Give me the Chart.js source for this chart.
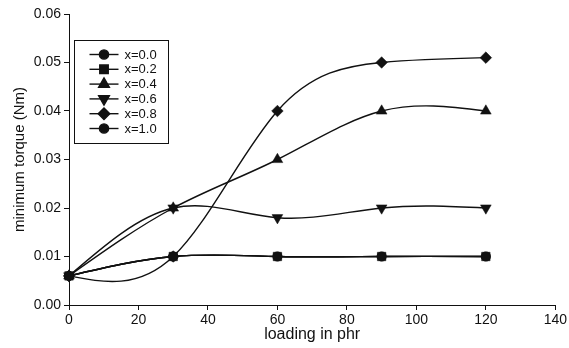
<!DOCTYPE html>
<html><head><meta charset="utf-8">
<script src="https://cdn.jsdelivr.net/npm/chart.js@4.4.1/dist/chart.umd.min.js"></script>
<style>html,body{margin:0;padding:0;background:#fff;} canvas{display:block;}</style>
</head><body>
<canvas id="c" width="569" height="348"></canvas>
<script>
// ---- data ----
const loading = [0, 30, 60, 90, 120];
const seriesLabels = ['x=0.0', 'x=0.2', 'x=0.4', 'x=0.6', 'x=0.8', 'x=1.0'];
const x00 = [0.006, 0.010, 0.010, 0.010, 0.010];
const x02 = [0.006, 0.010, 0.010, 0.010, 0.010];
const x04 = [0.006, 0.020, 0.030, 0.040, 0.040];
const x06 = [0.006, 0.020, 0.018, 0.020, 0.020];
const x08 = [0.006, 0.010, 0.040, 0.050, 0.051];
const x10 = [0.006, 0.010, 0.010, 0.010, 0.010];
const xTicks = [0, 20, 40, 60, 80, 100, 120, 140];
const yTicks = [0, 0.01, 0.02, 0.03, 0.04, 0.05, 0.06];
const xTitle = 'loading in phr';
const yTitle = 'minimum torque (Nm)';

// ---- styles ----
const seriesValues = [x00, x02, x04, x06, x08, x10];
const markers = [
  {style: 'circle', radius: 4.6, rotation: 0},
  {style: 'rect', radius: 6.0, rotation: 0},
  {style: 'triangle', radius: 6.2, rotation: 0},
  {style: 'triangle', radius: 6.2, rotation: 180},
  {style: 'rectRot', radius: 5.8, rotation: 0},
  {style: 'circle', radius: 4.6, rotation: 0}
];
const FONT = '"Liberation Sans", Arial, Helvetica, sans-serif';
const INK = '#111';

const datasets = seriesValues.map((vals, i) => ({
  label: seriesLabels[i],
  data: loading.map((x, j) => ({x: x, y: vals[j]})),
  borderColor: INK,
  borderWidth: 1.4,
  backgroundColor: INK,
  pointStyle: markers[i].style,
  pointRadius: markers[i].radius,
  pointRotation: markers[i].rotation,
  pointBackgroundColor: INK,
  pointBorderColor: INK,
  pointBorderWidth: 0.5,
  tension: 0.4,
  fill: false,
  clip: false
}));

// Smooth the lines as a natural cubic spline (control points from the library's own point positions)
const naturalSpline = {
  id: 'naturalSpline',
  beforeDatasetDraw(chart, args) {
    const line = args.meta && args.meta.dataset;
    if (!line || typeof line.updateControlPoints !== 'function') return;
    line.updateControlPoints(chart.chartArea, 'x');
    const pts = line.points || [];
    const n = pts.length;
    if (n < 3) return;
    const xs = pts.map(p => p.x), ys = pts.map(p => p.y);
    const h = [];
    for (let i = 0; i < n - 1; i++) h.push(xs[i + 1] - xs[i]);
    const M = new Array(n).fill(0);
    const m = n - 2;
    const a = [], b = [], c = [], d = [];
    for (let k = 0; k < m; k++) {
      const i = k + 1;
      a.push(h[i - 1]); b.push(2 * (h[i - 1] + h[i])); c.push(h[i]);
      d.push(6 * ((ys[i + 1] - ys[i]) / h[i] - (ys[i] - ys[i - 1]) / h[i - 1]));
    }
    for (let k = 1; k < m; k++) {
      const w = a[k] / b[k - 1];
      b[k] -= w * c[k - 1];
      d[k] -= w * d[k - 1];
    }
    const sol = new Array(m).fill(0);
    sol[m - 1] = d[m - 1] / b[m - 1];
    for (let k = m - 2; k >= 0; k--) sol[k] = (d[k] - c[k] * sol[k + 1]) / b[k];
    for (let k = 0; k < m; k++) M[k + 1] = sol[k];
    const der = [];
    for (let i = 0; i < n - 1; i++) der.push((ys[i + 1] - ys[i]) / h[i] - h[i] * (2 * M[i] + M[i + 1]) / 6);
    der.push((ys[n - 1] - ys[n - 2]) / h[n - 2] + h[n - 2] * (M[n - 2] + 2 * M[n - 1]) / 6);
    for (let i = 0; i < n; i++) {
      const p = pts[i];
      if (i > 0) { p.cp1x = xs[i] - h[i - 1] / 3; p.cp1y = ys[i] - der[i] * h[i - 1] / 3; }
      if (i < n - 1) { p.cp2x = xs[i] + h[i] / 3; p.cp2y = ys[i] + der[i] * h[i] / 3; }
    }
    line._path = undefined;
  }
};

function drawMarker(ctx, mk, x, y) {
  if (Chart.helpers && Chart.helpers.drawPoint) {
    Chart.helpers.drawPoint(ctx, {pointStyle: mk.style, radius: mk.radius, rotation: mk.rotation, borderWidth: 0.5}, x, y);
  } else {
    ctx.beginPath(); ctx.arc(x, y, mk.radius, 0, Math.PI * 2); ctx.fill();
  }
}

const boxLegend = {
  id: 'boxLegend',
  afterDraw(chart) {
    const ctx = chart.ctx, ar = chart.chartArea;
    const left = ar.left + 5.5, top = ar.top + 26.5, w = 94, hh = 103;
    ctx.save();
    ctx.fillStyle = '#fff';
    ctx.fillRect(left, top, w, hh);
    ctx.strokeStyle = INK; ctx.lineWidth = 1;
    ctx.strokeRect(left, top, w, hh);
    const rows = chart.data.datasets.length;
    const y0 = top + 14, step = (hh - 29) / (rows - 1);
    chart.data.datasets.forEach((ds, i) => {
      const y = y0 + i * step;
      ctx.strokeStyle = INK; ctx.lineWidth = 1.4;
      ctx.beginPath(); ctx.moveTo(left + 15, y); ctx.lineTo(left + 44, y); ctx.stroke();
      ctx.fillStyle = INK; ctx.strokeStyle = INK;
      drawMarker(ctx, markers[i], left + 29.5, y);
      ctx.fillStyle = INK;
      ctx.font = '13px ' + FONT;
      ctx.textBaseline = 'middle'; ctx.textAlign = 'left';
      ctx.fillText(ds.label, left + 50, y + 0.5);
    });
    ctx.restore();
  }
};

new Chart(document.getElementById('c'), {
  type: 'line',
  data: {datasets: datasets},
  plugins: [naturalSpline, boxLegend],
  options: {
    responsive: false,
    animation: false,
    devicePixelRatio: 1,
    events: [],
    layout: {padding: {top: 14, right: 12, left: 0, bottom: 0}},
    plugins: {legend: {display: false}, tooltip: {enabled: false}, title: {display: false}},
    scales: {
      x: {
        type: 'linear', min: 0, max: 140,
        afterBuildTicks: s => { s.ticks = xTicks.map(v => ({value: v})); },
        afterFit: s => { s.height = 43; },
        grid: {display: true, drawOnChartArea: false, drawTicks: true, tickLength: 5, color: INK, lineWidth: 1},
        border: {display: true, color: INK, width: 1},
        ticks: {color: INK, padding: 2, maxRotation: 0, font: {family: FONT, size: 14}, callback: v => String(v)},
        title: {display: true, text: xTitle, color: INK, font: {family: FONT, size: 16}, padding: {top: 0, bottom: 4}}
      },
      y: {
        type: 'linear', min: 0, max: 0.06,
        afterBuildTicks: s => { s.ticks = yTicks.map(v => ({value: v})); },
        afterFit: s => { s.width = 69; },
        grid: {display: true, drawOnChartArea: false, drawTicks: true, tickLength: 5, color: INK, lineWidth: 1},
        border: {display: true, color: INK, width: 1},
        ticks: {color: INK, padding: 3, font: {family: FONT, size: 14}, callback: v => Number(v).toFixed(2)},
        title: {display: true, text: yTitle, color: INK, font: {family: FONT, size: 15}, padding: {top: 11, bottom: 0}}
      }
    }
  }
});
</script>
</body></html>
